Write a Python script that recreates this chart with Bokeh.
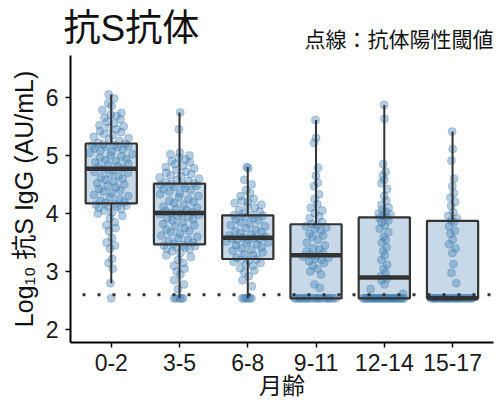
import numpy as np
from bokeh.plotting import figure
from bokeh.models import Range1d, FixedTicker, Label
from bokeh.embed import file_html
from bokeh.resources import INLINE

# ---------------- data ----------------
categories = ["0-2", "3-5", "6-8", "9-11", "12-14", "15-17"]
lod_value = 2.54          # values at the detection floor
threshold = 2.6           # dotted line: positivity threshold
lod_counts = [1, 5, 6, 20, 30, 26]

above_0_2 = [2.80, 3.05, 3.15, 3.22, 3.40, 3.45, 3.50, 3.58, 3.70, 3.75, 3.80, 3.85,
             3.92, 3.96, 4.00, 4.02, 4.05, 4.08, 4.10, 4.12, 4.13, 4.14, 4.15, 4.16,
             4.18, 4.20, 4.22, 4.25, 4.28, 4.30, 4.32, 4.35, 4.38, 4.40, 4.42, 4.45,
             4.48, 4.50, 4.52, 4.55, 4.58, 4.60, 4.62, 4.65, 4.68, 4.70, 4.72, 4.74, 4.76,
             4.78, 4.80, 4.82, 4.84, 4.86, 4.88, 4.90, 4.92, 4.94, 4.96, 4.98, 5.00,
             5.02, 5.04, 5.06, 5.08, 5.10, 5.12, 5.14, 5.15, 5.16, 5.17, 5.18, 5.19, 5.20,
             5.22, 5.25, 5.28, 5.30, 5.32, 5.35, 5.37, 5.40, 5.42, 5.45, 5.48, 5.50,
             5.52, 5.55, 5.58, 5.62, 5.65, 5.68, 5.70, 5.73, 5.78, 5.85, 5.90, 5.98, 6.05]
above_3_5 = [2.70, 2.78, 2.85, 2.95, 3.00, 3.05, 3.10, 3.15, 3.20, 3.25, 3.28, 3.32,
             3.35, 3.38, 3.40, 3.42, 3.43, 3.44, 3.45, 3.46,
             3.48, 3.50, 3.53, 3.55, 3.58, 3.60, 3.62, 3.65, 3.68, 3.70, 3.72, 3.75,
             3.78, 3.80, 3.82, 3.85, 3.88, 3.90, 3.92, 3.94, 3.96, 3.98, 3.99, 4.00, 4.01,
             4.02, 4.04, 4.06, 4.08, 4.10, 4.12, 4.15, 4.18, 4.20, 4.22, 4.25, 4.28,
             4.30, 4.33, 4.35, 4.38, 4.40, 4.42, 4.44, 4.46, 4.48, 4.49, 4.50, 4.51, 4.52,
             4.54, 4.56, 4.58, 4.60, 4.62, 4.64, 4.66, 4.68, 4.70, 4.72, 4.75, 4.78,
             4.80, 4.82, 4.85, 4.88, 4.90, 4.93, 4.96, 5.00, 5.02, 5.05, 5.45, 5.74]
above_6_8 = [2.75, 2.85, 2.92, 2.98, 3.02, 3.06, 3.10, 3.12, 3.15, 3.17, 3.19, 3.20, 3.21,
             3.24, 3.28, 3.30, 3.33, 3.36, 3.38, 3.40, 3.42, 3.45, 3.47, 3.49, 3.50,
             3.52, 3.54, 3.55, 3.56, 3.57, 3.58, 3.59,
             3.60, 3.62, 3.64, 3.66, 3.68, 3.70, 3.72, 3.75, 3.78, 3.80, 3.82, 3.85,
             3.88, 3.90, 3.92, 3.94, 3.96, 3.97,
             3.98, 4.00, 4.03, 4.06, 4.10, 4.12, 4.15, 4.18, 4.20, 4.22, 4.25, 4.30,
             4.35, 4.40, 4.50, 4.58, 4.78, 4.80]
above_9_11 = [2.72, 2.78, 2.95, 3.00, 3.05, 3.10, 3.15, 3.18, 3.20, 3.22, 3.24, 3.26, 3.27,
              3.29, 3.32, 3.35, 3.38, 3.40, 3.45, 3.50, 3.55, 3.60, 3.62, 3.65, 3.70,
              3.74, 3.76, 3.78, 3.80,
              3.82, 3.85, 3.92, 3.95, 4.01, 4.05, 4.10, 4.16, 4.25, 4.33, 4.47, 4.53,
              4.65, 4.79, 5.22, 5.30, 5.61]
above_12_14 = [2.62, 2.70, 2.78, 2.85, 2.88, 2.92,
               2.98, 3.05, 3.12, 3.20, 3.28, 3.35, 3.42, 3.50, 3.55, 3.60, 3.68, 3.74,
               3.80, 3.85, 3.88, 3.92, 3.94,
               3.96, 3.98, 4.00, 4.03, 4.06, 4.10, 4.15, 4.22, 4.30, 4.42, 4.52, 4.58,
               4.65, 4.72, 4.85, 5.63, 5.87]
above_15_17 = [2.80, 2.98, 3.13, 3.32, 3.40, 3.47, 3.55, 3.65, 3.70, 3.78, 3.85, 3.88,
               3.92, 3.96, 4.02, 4.13, 4.20, 4.27, 4.35, 4.47, 4.60, 4.91, 5.11, 5.41]
above_lists = [above_0_2, above_3_5, above_6_8, above_9_11, above_12_14, above_15_17]

y_ticks = [2, 3, 4, 5, 6]
title_text = "抗S抗体"
note_text = "点線：抗体陽性閾値"
x_label = "月齢"
y_label = "Log₁₀ 抗S IgG (AU/mL)"

# ---------------- style / layout ----------------
FONT = "Liberation Sans, Noto Sans CJK JP"
PT_COLOR = "#4682B4"
DARK = "#333333"
TXT = "#111111"
BOX_W = 0.75
X0, X1 = 0.403, 6.6           # extent of the x axis
Y0, Y1 = 1.78, 6.72           # extent of the y axis
W, H = 496, 400
LEFT_PX, RIGHT_PX, TOP_PX, BOTTOM_PX = 70, 3, 55, 58   # room around the axes
ppx = (W - LEFT_PX - RIGHT_PX) / (X1 - X0)
ppy = (H - TOP_PX - BOTTOM_PX) / (Y1 - Y0)


def vdc(k, base=2):
    v, denom = 0.0, 1.0
    while k:
        k, r = divmod(k, base)
        denom *= base
        v += r / denom
    return v


def quasi_offsets(vals, width=0.33, bw=0.14):
    vals = np.asarray(vals, dtype=float)
    order = np.argsort(vals, kind="stable")
    dens = np.array([np.exp(-0.5 * ((vals - v) / bw) ** 2).sum() for v in vals])
    dens = dens / dens.max()
    off = np.zeros(len(vals))
    for rank, idx in enumerate(order):
        off[idx] = (2 * vdc(rank + 1) - 1) * width * dens[idx]
    return off


p = figure(width=W, height=H,
           x_range=Range1d(X0 - LEFT_PX / ppx, X1 + RIGHT_PX / ppx),
           y_range=Range1d(Y0 - BOTTOM_PX / ppy, Y1 + TOP_PX / ppy),
           output_backend="svg", toolbar_location=None,
           min_border=0, min_border_left=0, min_border_right=0,
           min_border_top=0, min_border_bottom=0)
p.outline_line_color = None
p.xgrid.visible = False
p.ygrid.visible = False
p.background_fill_color = "white"

xs_pts, ys_pts = [], []
stats = dict(x=[], q1=[], med=[], q3=[], lo=[], hi=[])
for i, (cnt, above) in enumerate(zip(lod_counts, above_lists)):
    vals = np.array([lod_value] * cnt + list(above))
    xpos = i + 1
    off = quasi_offsets(vals)
    xs_pts.extend(xpos + off)
    ys_pts.extend(vals)
    q1, med, q3 = np.percentile(vals, [25, 50, 75])
    iqr = q3 - q1
    lo = vals[vals >= q1 - 1.5 * iqr].min()
    hi = vals[vals <= q3 + 1.5 * iqr].max()
    for k, v in zip(["x", "q1", "med", "q3", "lo", "hi"], [xpos, q1, med, q3, lo, hi]):
        stats[k].append(v)

# box fill
p.vbar(x=stats["x"], bottom=stats["q1"], top=stats["q3"], width=BOX_W,
       fill_color=PT_COLOR, fill_alpha=0.3, line_alpha=0)
# points
p.scatter(xs_pts, ys_pts, size=8, fill_color=PT_COLOR, fill_alpha=0.4,
          line_color=PT_COLOR, line_alpha=0.35, line_width=1)
# whiskers
p.segment(x0=stats["x"], x1=stats["x"], y0=stats["q3"], y1=stats["hi"],
          line_color=DARK, line_width=2)
p.segment(x0=stats["x"], x1=stats["x"], y0=stats["lo"], y1=stats["q1"],
          line_color=DARK, line_width=2)
# box outline
p.vbar(x=stats["x"], bottom=stats["q1"], top=stats["q3"], width=BOX_W,
       fill_alpha=0, line_color=DARK, line_width=2.2)
# median
xm = np.array(stats["x"], dtype=float)
p.segment(x0=xm - BOX_W / 2, x1=xm + BOX_W / 2, y0=stats["med"], y1=stats["med"],
          line_color=DARK, line_width=4.5, line_cap="butt")

# threshold line across the axis extent
p.segment(x0=[X0], x1=[X1], y0=[threshold], y1=[threshold], line_color=DARK,
          line_width=3, line_dash="3 12", line_dash_offset=3, line_cap="butt")

# axes at fixed positions, limited to the data panel
p.xaxis.fixed_location = Y0
p.yaxis.fixed_location = X0
p.xaxis.bounds = (X0, X1)
p.yaxis.bounds = (Y0, Y1)
p.xaxis.ticker = FixedTicker(ticks=list(range(1, len(categories) + 1)))
p.xaxis.major_label_overrides = {i + 1: c for i, c in enumerate(categories)}
p.yaxis.ticker = FixedTicker(ticks=y_ticks)
for ax in (p.xaxis[0], p.yaxis[0]):
    ax.axis_line_color = "black"
    ax.axis_line_width = 2
    ax.major_tick_line_color = "black"
    ax.major_tick_line_width = 1.5
    ax.major_tick_out = 5
    ax.major_tick_in = 0
    ax.minor_tick_line_color = None
    ax.major_label_text_font = FONT
    ax.major_label_text_font_size = "23px"
    ax.major_label_text_color = "#1a1a1a"
    ax.axis_label_text_font = FONT
    ax.axis_label_text_font_style = "normal"
    ax.axis_label_text_color = TXT
p.xaxis.major_label_standoff = 6
p.yaxis.major_label_standoff = 7
p.xaxis.axis_label = x_label
p.xaxis.axis_label_text_font_size = "23px"
p.xaxis.axis_label_standoff = -1
p.yaxis.axis_label = y_label
p.yaxis.axis_label_text_font_size = "25px"
p.yaxis.axis_label_standoff = 5

# texts above the data panel
p.add_layout(Label(x=X0, y=Y1, x_offset=-7, y_offset=27, text=title_text,
                   text_font=FONT, text_font_size="37px", text_color=TXT,
                   text_align="left", text_baseline="middle"))
p.add_layout(Label(x=X1, y=Y1, x_offset=0, y_offset=16, text=note_text,
                   text_font=FONT, text_font_size="21px", text_color=TXT,
                   text_align="right", text_baseline="middle"))

open("out.html", "w").write(file_html(p, INLINE))
